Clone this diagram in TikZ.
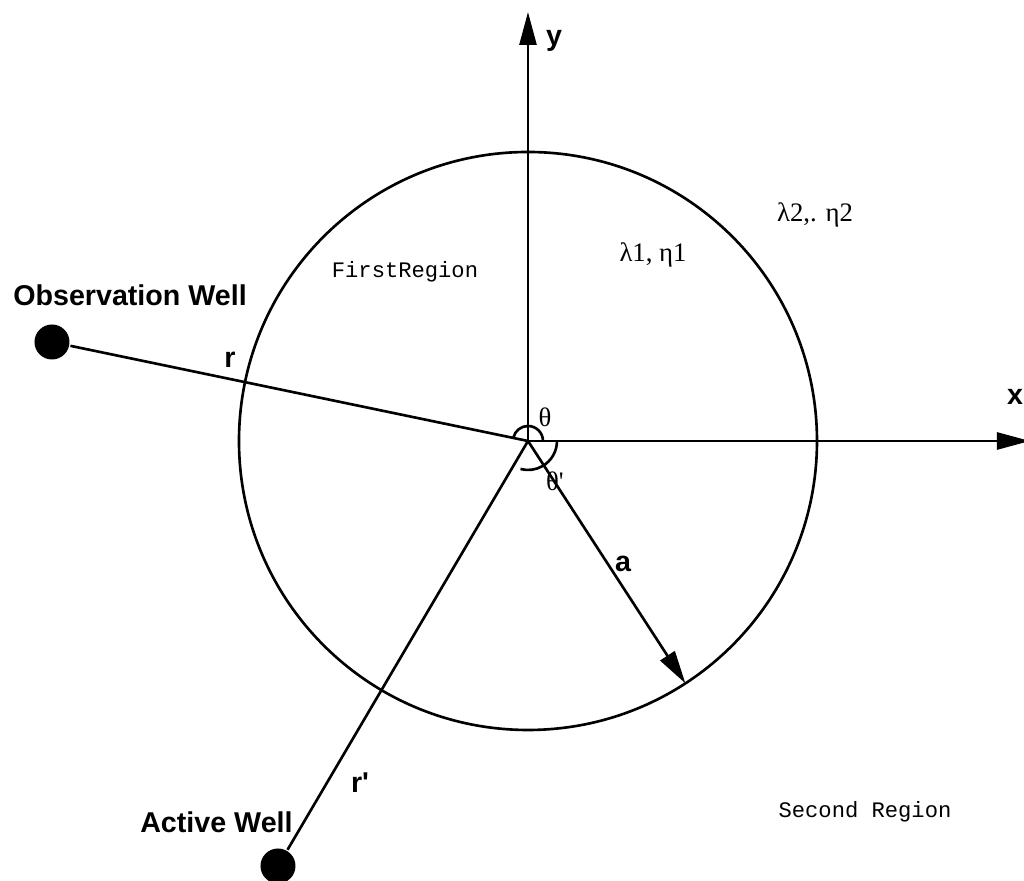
\documentclass[tikz,border=0pt]{standalone}
\usepackage{fontspec}
\setmainfont{Liberation Serif}
\newfontfamily\helv{Liberation Sans}
\newfontfamily\courier{Liberation Mono}
\usetikzlibrary{arrows.meta}

\begin{document}
\begin{tikzpicture}[line width=1.5pt, >={Triangle[length=6.6mm,width=3.4mm]},
  well/.style={circle, fill=black, inner sep=0pt, minimum size=7mm},
  boldlbl/.style={font=\helv\bfseries\fontsize{16.3}{19}\selectfont},
  greeklbl/.style={font=\fontsize{15.2}{17}\selectfont},
  regionlbl/.style={font=\courier\fontsize{12.6}{14}\selectfont}]
  \useasboundingbox (-10.56,-8.8) rectangle (9.92,8.82);
  % 1. Circle and axes
  \coordinate (O) at (0,0);
  \draw (O) circle (5.78);
  \coordinate (ytip) at (0,8.58);
  \coordinate (xtip) at (10.04,0);
  \draw[->] (O) -- (ytip);
  \draw[->] (O) -- (xtip);
  \node[boldlbl] (ylab) at (0.52,8.0) {y};
  \node[boldlbl] (xlab) at (9.74,0.88) {x};
  % 2. Wells
  \node[well] (obs) at (-9.52,1.98) {};
  \node[well] (act) at (-5.0,-8.5) {};
  \draw (obs) -- (O);
  \draw (act) -- (O);
  \node[boldlbl, anchor=west, inner sep=0pt] (obslab) at (-10.32,2.92) {Observation Well};
  \node[boldlbl, anchor=west, inner sep=0pt] (actlab) at (-7.78,-7.62) {Active Well};
  \node[boldlbl] (rlab) at (-5.96,1.62) {r};
  \node[boldlbl] (rplab) at (-3.36,-6.84) {r\textquotesingle};
  % 3. Radius a
  \coordinate (A) at (-57:5.78);
  \draw[->] (O) -- (A);
  \node[boldlbl] (alab) at (1.9,-2.46) {a};
  % 4. Angles
  \draw (O) ++(0.3,0) arc (0:166:0.3);
  \draw (O) ++(0.58,0) arc (0:-105:0.58);
  \node[greeklbl] (th) at (0.34,0.48) {θ};
  \node[greeklbl] (thp) at (0.54,-0.8) {θ\textquotesingle};
  % 5. Regions
  \node[regionlbl] (first) at (-2.46,3.38) {FirstRegion};
  \node[regionlbl] (second) at (6.74,-7.42) {Second Region};
  \node[greeklbl] (par1) at (2.5,3.72) {λ1, η1};
  \node[greeklbl] (par2) at (5.74,4.52) {λ2,. η2};
\end{tikzpicture}
\end{document}
